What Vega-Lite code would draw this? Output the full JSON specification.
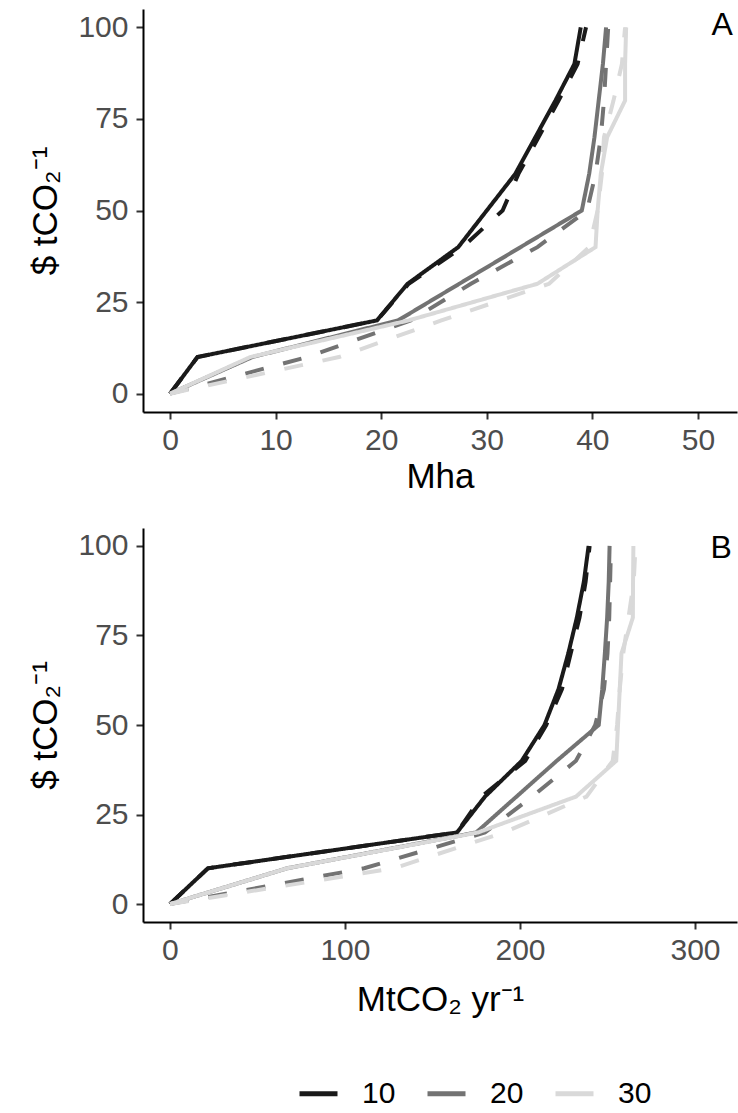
{
  "$schema": "https://vega.github.io/schema/vega-lite/v6.json",
  "background": "white",
  "padding": {"left": 28, "top": 8, "right": 1, "bottom": 0},
  "config": {
    "font": "Liberation Sans",
    "view": {"stroke": null},
    "axis": {
      "grid": false,
      "domainColor": "black",
      "domainWidth": 2,
      "tickColor": "#333333",
      "tickWidth": 2,
      "tickSize": 7,
      "labelFont": "Liberation Sans",
      "labelFontSize": 30,
      "labelColor": "#4d4d4d",
      "labelPadding": 6,
      "titleFont": "Liberation Sans",
      "titleFontSize": 35,
      "titleFontWeight": "normal",
      "titleColor": "black"
    },
    "axisY": {"labelPadding": 8, "titlePadding": 14},
    "legend": {
      "labelFont": "Liberation Sans",
      "labelFontSize": 30,
      "labelColor": "black"
    }
  },
  "datasets": {
    "A": [
      {"rate": "10", "type": "solid", "price": 0, "x": 0},
      {"rate": "10", "type": "solid", "price": 10, "x": 2.6},
      {"rate": "10", "type": "solid", "price": 20, "x": 19.6},
      {"rate": "10", "type": "solid", "price": 30, "x": 22.5},
      {"rate": "10", "type": "solid", "price": 40, "x": 27.3},
      {"rate": "10", "type": "solid", "price": 50, "x": 30.0},
      {"rate": "10", "type": "solid", "price": 60, "x": 32.7},
      {"rate": "10", "type": "solid", "price": 70, "x": 34.6},
      {"rate": "10", "type": "solid", "price": 80, "x": 36.5},
      {"rate": "10", "type": "solid", "price": 90, "x": 38.3},
      {"rate": "10", "type": "solid", "price": 100, "x": 38.9},
      {"rate": "10", "type": "dashed", "price": 0, "x": 0},
      {"rate": "10", "type": "dashed", "price": 10, "x": 2.6},
      {"rate": "10", "type": "dashed", "price": 20, "x": 19.6},
      {"rate": "10", "type": "dashed", "price": 30, "x": 22.6},
      {"rate": "10", "type": "dashed", "price": 40, "x": 27.7},
      {"rate": "10", "type": "dashed", "price": 50, "x": 31.5},
      {"rate": "10", "type": "dashed", "price": 60, "x": 33.0},
      {"rate": "10", "type": "dashed", "price": 70, "x": 34.9},
      {"rate": "10", "type": "dashed", "price": 80, "x": 36.8},
      {"rate": "10", "type": "dashed", "price": 90, "x": 38.6},
      {"rate": "10", "type": "dashed", "price": 100, "x": 39.4},
      {"rate": "20", "type": "solid", "price": 0, "x": 0},
      {"rate": "20", "type": "solid", "price": 10, "x": 7.8},
      {"rate": "20", "type": "solid", "price": 20, "x": 21.6},
      {"rate": "20", "type": "solid", "price": 30, "x": 27.4},
      {"rate": "20", "type": "solid", "price": 40, "x": 33.2},
      {"rate": "20", "type": "solid", "price": 50, "x": 39.0},
      {"rate": "20", "type": "solid", "price": 60, "x": 39.7},
      {"rate": "20", "type": "solid", "price": 70, "x": 40.2},
      {"rate": "20", "type": "solid", "price": 80, "x": 40.6},
      {"rate": "20", "type": "solid", "price": 90, "x": 41.0},
      {"rate": "20", "type": "solid", "price": 100, "x": 41.3},
      {"rate": "20", "type": "dashed", "price": 0, "x": 0},
      {"rate": "20", "type": "dashed", "price": 10, "x": 13.0},
      {"rate": "20", "type": "dashed", "price": 20, "x": 22.8},
      {"rate": "20", "type": "dashed", "price": 30, "x": 28.5},
      {"rate": "20", "type": "dashed", "price": 40, "x": 34.8},
      {"rate": "20", "type": "dashed", "price": 50, "x": 39.5},
      {"rate": "20", "type": "dashed", "price": 60, "x": 40.3},
      {"rate": "20", "type": "dashed", "price": 70, "x": 40.8},
      {"rate": "20", "type": "dashed", "price": 80, "x": 41.1},
      {"rate": "20", "type": "dashed", "price": 90, "x": 41.3},
      {"rate": "20", "type": "dashed", "price": 100, "x": 41.5},
      {"rate": "30", "type": "solid", "price": 0, "x": 0},
      {"rate": "30", "type": "solid", "price": 10, "x": 7.6},
      {"rate": "30", "type": "solid", "price": 20, "x": 22.6},
      {"rate": "30", "type": "solid", "price": 30, "x": 34.8},
      {"rate": "30", "type": "solid", "price": 40, "x": 40.3},
      {"rate": "30", "type": "solid", "price": 50, "x": 40.5},
      {"rate": "30", "type": "solid", "price": 60, "x": 40.8},
      {"rate": "30", "type": "solid", "price": 70, "x": 41.4},
      {"rate": "30", "type": "solid", "price": 80, "x": 43.1},
      {"rate": "30", "type": "solid", "price": 90, "x": 43.1},
      {"rate": "30", "type": "solid", "price": 100, "x": 43.2},
      {"rate": "30", "type": "dashed", "price": 0, "x": 0},
      {"rate": "30", "type": "dashed", "price": 10, "x": 16.0},
      {"rate": "30", "type": "dashed", "price": 20, "x": 25.7},
      {"rate": "30", "type": "dashed", "price": 30, "x": 35.9},
      {"rate": "30", "type": "dashed", "price": 40, "x": 39.7},
      {"rate": "30", "type": "dashed", "price": 50, "x": 40.5},
      {"rate": "30", "type": "dashed", "price": 60, "x": 40.9},
      {"rate": "30", "type": "dashed", "price": 70, "x": 41.1},
      {"rate": "30", "type": "dashed", "price": 80, "x": 42.0},
      {"rate": "30", "type": "dashed", "price": 90, "x": 42.8},
      {"rate": "30", "type": "dashed", "price": 100, "x": 43.1}
    ],
    "B": [
      {"rate": "10", "type": "solid", "price": 0, "x": 0},
      {"rate": "10", "type": "solid", "price": 10, "x": 21.7},
      {"rate": "10", "type": "solid", "price": 20, "x": 164},
      {"rate": "10", "type": "solid", "price": 30, "x": 180},
      {"rate": "10", "type": "solid", "price": 40, "x": 201},
      {"rate": "10", "type": "solid", "price": 50, "x": 214},
      {"rate": "10", "type": "solid", "price": 60, "x": 222},
      {"rate": "10", "type": "solid", "price": 70, "x": 227.6},
      {"rate": "10", "type": "solid", "price": 80, "x": 232.5},
      {"rate": "10", "type": "solid", "price": 90, "x": 236.5},
      {"rate": "10", "type": "solid", "price": 100, "x": 239.2},
      {"rate": "10", "type": "dashed", "price": 0, "x": 0},
      {"rate": "10", "type": "dashed", "price": 10, "x": 21.7},
      {"rate": "10", "type": "dashed", "price": 20, "x": 164},
      {"rate": "10", "type": "dashed", "price": 30, "x": 178},
      {"rate": "10", "type": "dashed", "price": 40, "x": 203},
      {"rate": "10", "type": "dashed", "price": 50, "x": 215},
      {"rate": "10", "type": "dashed", "price": 60, "x": 224},
      {"rate": "10", "type": "dashed", "price": 70, "x": 229},
      {"rate": "10", "type": "dashed", "price": 80, "x": 234},
      {"rate": "10", "type": "dashed", "price": 90, "x": 237.5},
      {"rate": "10", "type": "dashed", "price": 100, "x": 239.8},
      {"rate": "20", "type": "solid", "price": 0, "x": 0},
      {"rate": "20", "type": "solid", "price": 10, "x": 67},
      {"rate": "20", "type": "solid", "price": 20, "x": 175},
      {"rate": "20", "type": "solid", "price": 30, "x": 198},
      {"rate": "20", "type": "solid", "price": 40, "x": 221},
      {"rate": "20", "type": "solid", "price": 50, "x": 245},
      {"rate": "20", "type": "solid", "price": 60, "x": 247},
      {"rate": "20", "type": "solid", "price": 70, "x": 248.5},
      {"rate": "20", "type": "solid", "price": 80, "x": 249.8},
      {"rate": "20", "type": "solid", "price": 90, "x": 250.7},
      {"rate": "20", "type": "solid", "price": 100, "x": 251.2},
      {"rate": "20", "type": "dashed", "price": 0, "x": 0},
      {"rate": "20", "type": "dashed", "price": 10, "x": 111},
      {"rate": "20", "type": "dashed", "price": 20, "x": 180},
      {"rate": "20", "type": "dashed", "price": 30, "x": 207},
      {"rate": "20", "type": "dashed", "price": 40, "x": 232},
      {"rate": "20", "type": "dashed", "price": 50, "x": 243},
      {"rate": "20", "type": "dashed", "price": 60, "x": 248},
      {"rate": "20", "type": "dashed", "price": 70, "x": 250},
      {"rate": "20", "type": "dashed", "price": 80, "x": 251},
      {"rate": "20", "type": "dashed", "price": 90, "x": 251.5},
      {"rate": "20", "type": "dashed", "price": 100, "x": 252},
      {"rate": "30", "type": "solid", "price": 0, "x": 0},
      {"rate": "30", "type": "solid", "price": 10, "x": 67},
      {"rate": "30", "type": "solid", "price": 20, "x": 176},
      {"rate": "30", "type": "solid", "price": 30, "x": 232},
      {"rate": "30", "type": "solid", "price": 40, "x": 255},
      {"rate": "30", "type": "solid", "price": 50, "x": 256},
      {"rate": "30", "type": "solid", "price": 60, "x": 257},
      {"rate": "30", "type": "solid", "price": 70, "x": 258},
      {"rate": "30", "type": "solid", "price": 80, "x": 264.5},
      {"rate": "30", "type": "solid", "price": 90, "x": 264.6},
      {"rate": "30", "type": "solid", "price": 100, "x": 264.8},
      {"rate": "30", "type": "dashed", "price": 0, "x": 0},
      {"rate": "30", "type": "dashed", "price": 10, "x": 128},
      {"rate": "30", "type": "dashed", "price": 20, "x": 191},
      {"rate": "30", "type": "dashed", "price": 30, "x": 238},
      {"rate": "30", "type": "dashed", "price": 40, "x": 253},
      {"rate": "30", "type": "dashed", "price": 50, "x": 255.5},
      {"rate": "30", "type": "dashed", "price": 60, "x": 257},
      {"rate": "30", "type": "dashed", "price": 70, "x": 259},
      {"rate": "30", "type": "dashed", "price": 80, "x": 262},
      {"rate": "30", "type": "dashed", "price": 90, "x": 265},
      {"rate": "30", "type": "dashed", "price": 100, "x": 266}
    ]
  },
  "spacing": 34,
  "resolve": {"scale": {"color": "shared", "strokeDash": "shared"}},
  "vconcat": [
    {
      "width": 594,
      "height": 403,
      "data": {"name": "A"},
      "layer": [
        {
          "mark": {"type": "line", "strokeWidth": 4, "strokeCap": "butt"},
          "encoding": {
            "x": {"field": "x", "type": "quantitative", "scale": {"domain": [-2.56, 53.7], "nice": false, "zero": false}, "axis": {"values": [0, 10, 20, 30, 40, 50], "title": "Mha"}},
            "y": {"field": "price", "type": "quantitative", "scale": {"domain": [-5, 105], "nice": false, "zero": false}, "axis": {"values": [0, 25, 50, 75, 100], "title": "$ tCO₂⁻¹"}},
            "color": {"field": "rate", "type": "nominal", "scale": {"domain": ["10", "20", "30"], "range": ["#1a1a1a", "#737373", "#d9d9d9"]},
              "legend": {"orient": "none", "legendX": 154, "legendY": 1063, "direction": "horizontal", "title": null, "symbolType": "stroke", "symbolSize": 1444, "symbolStrokeWidth": 5, "symbolDash": [1, 0], "labelOffset": 22, "columnPadding": 21,
                "encode": {"symbols": {"update": {"strokeDash": {"value": [1, 0]}, "strokeWidth": {"value": 5}}}}}},
            "strokeDash": {"field": "type", "type": "nominal", "scale": {"domain": ["solid", "dashed"], "range": [[1, 0], [19, 20]]}, "legend": null},
            "order": {"field": "price", "type": "quantitative"}
          }
        },
        {
          "data": {"values": [{"label": "A"}]},
          "mark": {"type": "text", "fontSize": 32, "align": "right", "baseline": "alphabetic", "color": "black", "font": "Liberation Sans"},
          "encoding": {
            "x": {"datum": 53.3},
            "y": {"datum": 98},
            "text": {"field": "label"}
          }
        }
      ]
    },
    {
      "width": 594,
      "height": 394,
      "data": {"name": "B"},
      "layer": [
        {
          "mark": {"type": "line", "strokeWidth": 4, "strokeCap": "butt"},
          "encoding": {
            "x": {"field": "x", "type": "quantitative", "scale": {"domain": [-15.4, 324], "nice": false, "zero": false}, "axis": {"values": [0, 100, 200, 300], "title": "MtCO₂ yr⁻¹", "titlePadding": 17}},
            "y": {"field": "price", "type": "quantitative", "scale": {"domain": [-5, 105], "nice": false, "zero": false}, "axis": {"values": [0, 25, 50, 75, 100], "title": "$ tCO₂⁻¹"}},
            "color": {"field": "rate", "type": "nominal", "scale": {"domain": ["10", "20", "30"], "range": ["#1a1a1a", "#737373", "#d9d9d9"]}},
            "strokeDash": {"field": "type", "type": "nominal", "scale": {"domain": ["solid", "dashed"], "range": [[1, 0], [19, 20]]}, "legend": null},
            "order": {"field": "price", "type": "quantitative"}
          }
        },
        {
          "data": {"values": [{"label": "B"}]},
          "mark": {"type": "text", "fontSize": 32, "align": "right", "baseline": "alphabetic", "color": "black", "font": "Liberation Sans"},
          "encoding": {
            "x": {"datum": 321},
            "y": {"datum": 96.5},
            "text": {"field": "label"}
          }
        }
      ]
    }
  ]
}
